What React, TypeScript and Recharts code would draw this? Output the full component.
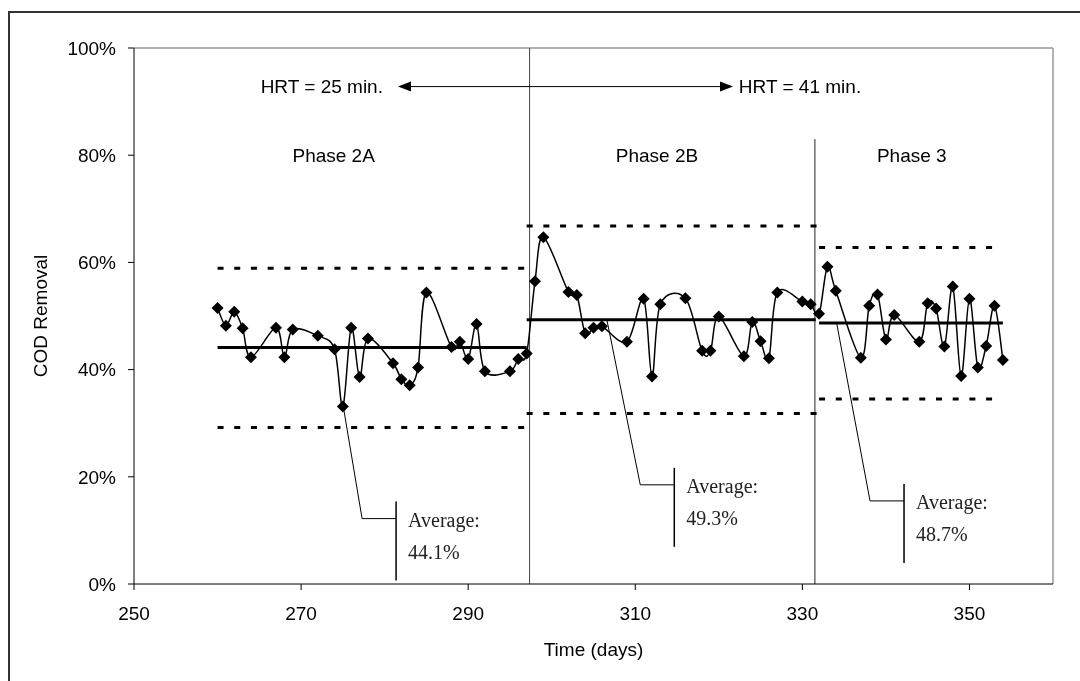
import { LineChart, Line, XAxis, YAxis, ReferenceLine, ReferenceDot, Label } from "recharts"

// COD removal readings, one list per phase
const phase2aDays = [260, 261, 262, 263, 264, 267, 268, 269, 272, 274, 275, 276, 277, 278, 281, 282, 283, 284, 285, 288, 289, 290, 291, 292, 295, 296, 297]
const phase2aValues = [51.5, 48.2, 50.8, 47.7, 42.3, 47.8, 42.3, 47.5, 46.3, 43.8, 33.1, 47.8, 38.6, 45.8, 41.2, 38.2, 37.1, 40.4, 54.4, 44.2, 45.2, 42.0, 48.5, 39.7, 39.7, 42.0, 43.0]
const phase2bDays = [298, 299, 302, 303, 304, 305, 306, 309, 311, 312, 313, 316, 318, 319, 320, 323, 324, 325, 326, 327, 330, 331]
const phase2bValues = [56.5, 64.7, 54.5, 53.9, 46.8, 47.8, 48.1, 45.2, 53.2, 38.7, 52.2, 53.3, 43.5, 43.5, 49.9, 42.5, 48.9, 45.3, 42.1, 54.4, 52.7, 52.2]
const phase3Days = [332, 333, 334, 337, 338, 339, 340, 341, 344, 345, 346, 347, 348, 349, 350, 351, 352, 353, 354]
const phase3Values = [50.4, 59.2, 54.7, 42.2, 51.9, 54.0, 45.6, 50.2, 45.2, 52.4, 51.4, 44.3, 55.5, 38.8, 53.2, 40.4, 44.4, 51.9, 41.8]

const phaseNames = ["Phase 2A", "Phase 2B", "Phase 3"]
const phaseLabelDays = [273.9, 312.6, 343.1]
const phaseAverages = [44.1, 49.3, 48.7]
const upperLimits = [58.9, 66.8, 62.8]
const lowerLimits = [29.2, 31.8, 34.5]
const averageStart = [260, 297, 332]
const averageEnd = [297, 331.6, 354]
const limitStart = [260, 297, 332]
const limitEnd = [297.3, 332.2, 353.7]
const phaseBoundaries = [297.35, 331.5]

// callout leader lines (from point -> elbow)
const calloutFromDay = [275.05, 306.6, 334.1]
const calloutFromValue = [33.1, 49.3, 48.7]
const calloutElbowDay = [277.3, 310.6, 338.1]
const calloutElbowValue = [12.2, 18.5, 15.5]

const xTicks = [250, 270, 290, 310, 330, 350]
const yTicks = [0, 20, 40, 60, 80, 100]

const sans = "'Liberation Sans', Arial, sans-serif"
const serif = "'Liberation Serif', 'Times New Roman', serif"

const readings = [
  ...phase2aDays.map((d, i) => ({ x: d, y: phase2aValues[i] })),
  ...phase2bDays.map((d, i) => ({ x: d, y: phase2bValues[i] })),
  ...phase3Days.map((d, i) => ({ x: d, y: phase3Values[i] })),
]

// Excel style smoothed line (catmull-rom through the points)
function excelCurve(context: any) {
  let pts: number[][] = []
  return {
    areaStart() {},
    areaEnd() {},
    lineStart() {
      pts = []
    },
    point(x: number, y: number) {
      pts.push([+x, +y])
    },
    lineEnd() {
      if (!pts.length) return
      context.moveTo(pts[0][0], pts[0][1])
      for (let i = 0; i < pts.length - 1; i++) {
        const p0 = pts[i - 1] || pts[i]
        const p1 = pts[i]
        const p2 = pts[i + 1]
        const p3 = pts[i + 2] || p2
        context.bezierCurveTo(
          p1[0] + (p2[0] - p0[0]) / 6,
          p1[1] + (p2[1] - p0[1]) / 6,
          p2[0] - (p3[0] - p1[0]) / 6,
          p2[1] - (p3[1] - p1[1]) / 6,
          p2[0],
          p2[1]
        )
      }
    },
  }
}

const Diamond = (props: any) => {
  const { cx, cy, index } = props
  const s = 6
  return <path key={index} d={`M${cx},${cy - s}L${cx + s},${cy}L${cx},${cy + s}L${cx - s},${cy}Z`} fill="#000" />
}

const renderCallout = (p: any, i: number) => {
  const { x1, y1, x2, y2 } = p
  const bx = x2 + 34
  return (
    <g>
      <polyline points={`${x1},${y1} ${x2},${y2} ${bx},${y2}`} fill="none" stroke="#000" strokeWidth={1} />
      <line x1={bx} x2={bx} y1={y2 - 17} y2={y2 + 62} stroke="#000" strokeWidth={1.5} />
      <text x={bx + 12} y={y2 + 8} fontFamily={serif} fontSize={20} fill="#222">Average:</text>
      <text x={bx + 12} y={y2 + 40} fontFamily={serif} fontSize={20} fill="#222">{phaseAverages[i].toFixed(1)}%</text>
    </g>
  )
}

const renderArrow = (p: any) => {
  const { x1, y1, x2, y2 } = p
  const len = 13
  const h = 5
  return (
    <g>
      <line x1={x1 + len} y1={y1} x2={x2 - len} y2={y2} stroke="#000" strokeWidth={1} />
      <path d={`M${x1},${y1}L${x1 + len},${y1 - h}L${x1 + len},${y1 + h}Z`} fill="#000" />
      <path d={`M${x2},${y2}L${x2 - len},${y2 - h}L${x2 - len},${y2 + h}Z`} fill="#000" />
    </g>
  )
}

const textDot = (text: string, anchor: string) => (p: any) => (
  <text x={p.cx} y={p.cy} textAnchor={anchor} dominantBaseline="central" fontFamily={sans} fontSize={19} fill="#000">
    {text}
  </text>
)

const YLabel = (props: any) => {
  const { viewBox } = props
  const cx = viewBox.x + 32
  const cy = viewBox.y + viewBox.height / 2
  return (
    <text x={cx} y={cy} transform={`rotate(-90, ${cx}, ${cy})`} textAnchor="middle" dominantBaseline="central" fontFamily={sans} fontSize={19} fill="#000">
      COD Removal
    </text>
  )
}

export default function App() {
  return (
    <div style={{ position: "relative", width: 1064, height: 665 }}>
      <div
        style={{
          position: "fixed",
          left: 8,
          top: 11,
          width: 1100,
          height: 700,
          borderLeft: "2px solid #333",
          borderTop: "2px solid #333",
        }}
      />
      <LineChart width={1064} height={665} margin={{ top: 40, right: 19, bottom: 9, left: 0 }}>
        <XAxis
          dataKey="x"
          type="number"
          domain={[250, 360]}
          ticks={xTicks}
          allowDataOverflow
          stroke="#000"
          tickSize={6}
          tickMargin={17}
          height={80}
          tick={{ fill: "#000", fontSize: 19, fontFamily: sans }}
        >
          <Label value="Time (days)" position="insideBottom" offset={8} fill="#000" fontSize={19} fontFamily={sans} />
        </XAxis>
        <YAxis
          type="number"
          domain={[0, 100]}
          ticks={yTicks}
          width={126}
          stroke="#000"
          tickSize={6}
          tickMargin={12}
          tickFormatter={(v) => `${v}%`}
          tick={{ fill: "#000", fontSize: 19, fontFamily: sans }}
        >
          <Label content={<YLabel />} />
        </YAxis>

        <ReferenceLine y={100} stroke="#999" strokeWidth={1.5} ifOverflow="visible" />
        <ReferenceLine x={360} stroke="#999" strokeWidth={1.5} ifOverflow="visible" />
        <ReferenceLine x={phaseBoundaries[0]} stroke="#444" strokeWidth={1} />
        <ReferenceLine
          segment={[
            { x: phaseBoundaries[1], y: 0 },
            { x: phaseBoundaries[1], y: 83 },
          ]}
          stroke="#222"
          strokeWidth={1}
        />

        {phaseNames.map((name, i) => (
          <ReferenceDot key={name} x={phaseLabelDays[i]} y={80} r={0} shape={textDot(name, "middle")} />
        ))}
        <ReferenceDot x={279.8} y={92.8} r={0} shape={textDot("HRT = 25 min.", "end")} />
        <ReferenceDot x={322.4} y={92.8} r={0} shape={textDot("HRT = 41 min.", "start")} />
        <ReferenceLine
          segment={[
            { x: 281.6, y: 92.8 },
            { x: 321.7, y: 92.8 },
          ]}
          shape={renderArrow}
        />

        {phaseNames.map((name, i) => (
          <Line
            key={"up" + name}
            data={[
              { x: limitStart[i], y: upperLimits[i] },
              { x: limitEnd[i], y: upperLimits[i] },
            ]}
            dataKey="y"
            stroke="#000"
            strokeWidth={3}
            strokeDasharray="6 10.7"
            dot={false}
            activeDot={false}
            isAnimationActive={false}
          />
        ))}
        {phaseNames.map((name, i) => (
          <Line
            key={"lo" + name}
            data={[
              { x: limitStart[i], y: lowerLimits[i] },
              { x: limitEnd[i], y: lowerLimits[i] },
            ]}
            dataKey="y"
            stroke="#000"
            strokeWidth={3}
            strokeDasharray="6 10.7"
            dot={false}
            activeDot={false}
            isAnimationActive={false}
          />
        ))}
        {phaseNames.map((name, i) => (
          <Line
            key={"avg" + name}
            data={[
              { x: averageStart[i], y: phaseAverages[i] },
              { x: averageEnd[i], y: phaseAverages[i] },
            ]}
            dataKey="y"
            stroke="#000"
            strokeWidth={3}
            dot={false}
            activeDot={false}
            isAnimationActive={false}
          />
        ))}

        <Line
          data={readings}
          dataKey="y"
          type={excelCurve as any}
          stroke="#000"
          strokeWidth={1.5}
          dot={<Diamond />}
          activeDot={false}
          isAnimationActive={false}
        />

        {phaseNames.map((name, i) => (
          <ReferenceLine
            key={"call" + name}
            segment={[
              { x: calloutFromDay[i], y: calloutFromValue[i] },
              { x: calloutElbowDay[i], y: calloutElbowValue[i] },
            ]}
            shape={(p: any) => renderCallout(p, i)}
          />
        ))}
      </LineChart>
    </div>
  )
}
